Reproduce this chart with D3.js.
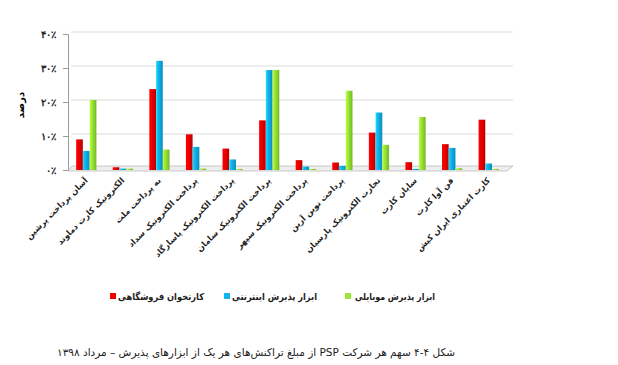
<!DOCTYPE html>
<html>
<head>
<meta charset="utf-8">
<script src="https://cdn.jsdelivr.net/npm/d3@7"></script>
<style>
  body { margin: 0; background: #fff; }
  svg { display: block; font-family: 'DejaVu Sans', sans-serif; }
</style>
</head>
<body>
<svg id="chart" width="618" height="365"></svg>
<script>
// categories (PSP companies), left to right
const categories = [
  'آسان پرداخت پرشین',
  'الکترونیک کارت دماوند',
  'به پرداخت ملت',
  'پرداخت الکترونیک سداد',
  'پرداخت الکترونیک پاسارگاد',
  'پرداخت الکترونیک سامان',
  'پرداخت الکترونیک سپهر',
  'پرداخت نوین آرین',
  'تجارت الکترونیک پارسیان',
  'سایان کارت',
  'فن آوا کارت',
  'کارت اعتباری ایران کیش'
]

// series values, percent
const posValues = [9.0, 0.8, 23.8, 10.5, 6.3, 14.6, 2.9, 2.2, 11.0, 2.3, 7.6, 14.8]
const internetValues = [5.6, 0.4, 32.1, 6.8, 3.1, 29.4, 1.0, 1.2, 16.9, 0.3, 6.5, 1.9]
const mobileValues = [20.6, 0.4, 6.0, 0.4, 0.3, 29.4, 0.3, 23.3, 7.4, 15.6, 0.5, 0.3]

const seriesNames = ['کارتخوان فروشگاهی', 'ابزار پذیرش اینترنتی', 'ابزار پذیرش موبایلی']
const seriesColors = ['#ee0000', '#10b4ee', '#99e833']

const yTicks = [0, 10, 20, 30, 40]
const yTitle = 'درصد'
const caption = 'شکل ۴-۴ سهم هر شرکت PSP از مبلغ تراکنش‌های هر یک از ابزارهای پذیرش – مرداد ۱۳۹۸'

const toFa = (s) => String(s).replace(/\d/g, (d) => '۰۱۲۳۴۵۶۷۸۹'[d])

const svg = d3.select('#chart')

const plot = { left: 68, right: 507, top: 34, bottom: 170 }

const series = [posValues, internetValues, mobileValues]

const x0 = d3.scaleBand()
  .domain(categories)
  .range([plot.left, plot.right])
  .paddingInner(0.44)
  .paddingOuter(0.22)

const x1 = d3.scaleBand()
  .domain(d3.range(series.length))
  .range([0, x0.bandwidth()])
  .padding(0.02)

const y = d3.scaleLinear().domain([0, 40]).range([plot.bottom, plot.top])

// gradients for the pseudo-3D look
const defs = svg.append('defs')
seriesColors.forEach((c, i) => {
  const g = defs.append('linearGradient')
    .attr('id', 'grad' + i)
    .attr('x1', '0%').attr('x2', '100%')
  g.append('stop').attr('offset', '0%').attr('stop-color', d3.color(c).brighter(0.6))
  g.append('stop').attr('offset', '35%').attr('stop-color', c)
  g.append('stop').attr('offset', '100%').attr('stop-color', d3.color(c).darker(0.7))
})

// grid lines
svg.append('g')
  .attr('id', 'grid')
  .selectAll('line')
  .data(yTicks.filter((d) => d > 0))
  .join('line')
  .attr('x1', plot.left + 3)
  .attr('x2', 513)
  .attr('y1', (d) => y(d) - 2)
  .attr('y2', (d) => y(d) - 2)
  .attr('stroke', '#dcdcdc')
  .attr('stroke-width', 1.2)

// floor
svg.append('path')
  .attr('d', `M${plot.left},${plot.bottom + 1} L${plot.left + 4},${plot.bottom - 4} L513,${plot.bottom - 4} L507,${plot.bottom + 1} Z`)
  .attr('fill', '#eeeeee')
  .attr('stroke', '#bdbdbd')
  .attr('stroke-width', 0.8)

// y axis
const yAxis = svg.append('g')
  .attr('transform', `translate(${plot.left},0)`)
  .call(d3.axisLeft(y).tickValues(yTicks).tickSize(5).tickFormat((d) => toFa(d) + '٪'))
yAxis.select('.domain').attr('stroke', '#9a9a9a')
yAxis.selectAll('.tick line').attr('stroke', '#9a9a9a')
yAxis.selectAll('text')
  .attr('font-size', 10)
  .attr('font-weight', 'bold')
  .attr('fill', '#222')
  .attr('x', -12)

svg.append('text')
  .attr('transform', `translate(24,${(plot.top + plot.bottom) / 2 + 3}) rotate(-90)`)
  .attr('text-anchor', 'middle')
  .attr('font-size', 10)
  .attr('font-weight', 'bold')
  .text(yTitle)

// bars
const groups = svg.append('g')
  .attr('id', 'bars')
  .selectAll('g')
  .data(categories)
  .join('g')
  .attr('transform', (d) => `translate(${x0(d)},0)`)

groups.selectAll('rect')
  .data((d, i) => series.map((s, k) => ({ k, v: s[i] })))
  .join('rect')
  .attr('x', (d) => x1(d.k))
  .attr('y', (d) => y(d.v))
  .attr('width', x1.bandwidth())
  .attr('height', (d) => plot.bottom - y(d.v))
  .attr('fill', (d) => `url(#grad${d.k})`)

// x labels
svg.append('g')
  .attr('id', 'xLabels')
  .selectAll('text')
  .data(categories)
  .join('text')
  .attr('transform', (d) => `translate(${x0(d) + x0.bandwidth() / 2 + 2},${plot.bottom + 11}) rotate(-45)`)
  .attr('text-anchor', 'end')
  .attr('font-size', 8.2)
  .attr('font-weight', 'bold')
  .attr('fill', '#222')
  .text((d) => d)

// legend: squares on the left of each label, label right edge fixed
const legendItems = [
  { i: 0, x: 110, end: 204, w: 86 },
  { i: 1, x: 224, end: 317, w: 85 },
  { i: 2, x: 345, end: 435, w: 80 }
]
const legend = svg.append('g').attr('id', 'legend')
legend.selectAll('rect')
  .data(legendItems)
  .join('rect')
  .attr('x', (d) => d.x)
  .attr('y', 293)
  .attr('width', 6)
  .attr('height', 6)
  .attr('fill', (d) => seriesColors[d.i])
legend.selectAll('text')
  .data(legendItems)
  .join('text')
  .attr('x', (d) => d.end)
  .attr('y', 300)
  .attr('text-anchor', 'end')
  .attr('font-size', 9.5)
  .attr('font-weight', 'bold')
  .attr('textLength', (d) => d.w)
  .attr('lengthAdjust', 'spacingAndGlyphs')
  .attr('fill', '#222')
  .text((d) => seriesNames[d.i])

// caption
svg.append('text')
  .attr('x', 455)
  .attr('y', 356)
  .attr('text-anchor', 'start')
  .attr('direction', 'rtl')
  .attr('font-size', 10.5)
  .attr('fill', '#222')
  .text(caption)
</script>
</body>
</html>
